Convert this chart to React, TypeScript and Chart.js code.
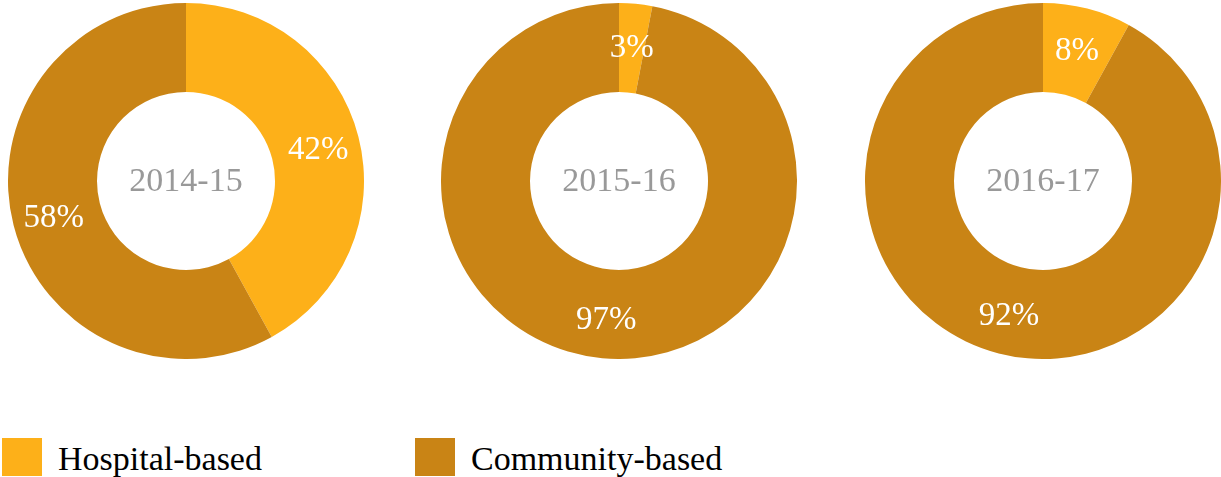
import React, { useEffect, useRef } from "react";
import { Chart, registerables } from "chart.js";

Chart.register(...registerables);

const categories = ["Hospital-based", "Community-based"];
const years = ["2014-15", "2015-16", "2016-17"];
const hospital = [42, 3, 8];
const community = [58, 97, 92];
const colors = ["#FDB019", "#C98415"];

const FONT = "'Liberation Serif', 'Times New Roman', serif";

const labelPlugin = {
  id: "donutLabels",
  afterDatasetsDraw(chart: any) {
    const ctx = chart.ctx;
    const meta = chart.getDatasetMeta(0);
    const data = chart.data.datasets[0].data;
    ctx.save();
    ctx.font = `33px ${FONT}`;
    ctx.fillStyle = "#FFFFFF";
    ctx.textAlign = "center";
    ctx.textBaseline = "middle";
    meta.data.forEach((arc: any, i: number) => {
      const { x, y, startAngle, endAngle, innerRadius, outerRadius } = arc.getProps(
        ["x", "y", "startAngle", "endAngle", "innerRadius", "outerRadius"],
        true
      );
      const mid = (startAngle + endAngle) / 2;
      const r = (innerRadius + outerRadius) / 2 + 3;
      ctx.fillText(`${data[i]}%`, x + Math.cos(mid) * r, y + Math.sin(mid) * r + 3);
    });
    const a = chart.chartArea;
    const title = chart.options.plugins.centerTitle.text;
    ctx.font = `34px ${FONT}`;
    ctx.fillStyle = "#999999";
    ctx.fillText(title, (a.left + a.right) / 2, (a.top + a.bottom) / 2 + 1);
    ctx.restore();
  },
};

function Donut({ idx, left }: { idx: number; left: number }) {
  const ref = useRef<HTMLCanvasElement>(null);
  useEffect(() => {
    if (!ref.current) return;
    const chart = new Chart(ref.current, {
      type: "doughnut",
      data: {
        labels: categories,
        datasets: [
          {
            data: [hospital[idx], community[idx]],
            backgroundColor: colors,
            borderWidth: 0,
          },
        ],
      },
      options: {
        responsive: false,
        animation: false,
        cutout: "50%",
        layout: { padding: 0 },
        plugins: {
          legend: { display: false },
          tooltip: { enabled: false },
          centerTitle: { text: years[idx] },
        } as any,
      },
      plugins: [labelPlugin],
    });
    return () => chart.destroy();
  }, [idx]);
  return (
    <div style={{ position: "absolute", left, top: 3, width: 356, height: 356 }}>
      <canvas ref={ref} width={356} height={356} />
    </div>
  );
}

export default function App() {
  return (
    <div
      style={{
        position: "fixed",
        left: 0,
        top: 0,
        width: 1221,
        height: 477,
        background: "#ffffff",
        overflow: "hidden",
      }}
    >
      <Donut idx={0} left={8} />
      <Donut idx={1} left={441} />
      <Donut idx={2} left={865} />
      <div
        style={{
          position: "absolute",
          left: 2,
          top: 438,
          display: "flex",
          alignItems: "center",
          fontFamily: FONT,
          fontSize: 34,
          color: "#000",
          whiteSpace: "nowrap",
        }}
      >
        {categories.map((c, i) => (
          <div
            key={c}
            style={{
              display: "flex",
              alignItems: "center",
              width: i === 0 ? 413 : undefined,
            }}
          >
            <div style={{ width: 40, height: 38, background: colors[i], marginRight: 16 }} />
            <span style={{ lineHeight: "38px", position: "relative", top: 2 }}>{c}</span>
          </div>
        ))}
      </div>
    </div>
  );
}
